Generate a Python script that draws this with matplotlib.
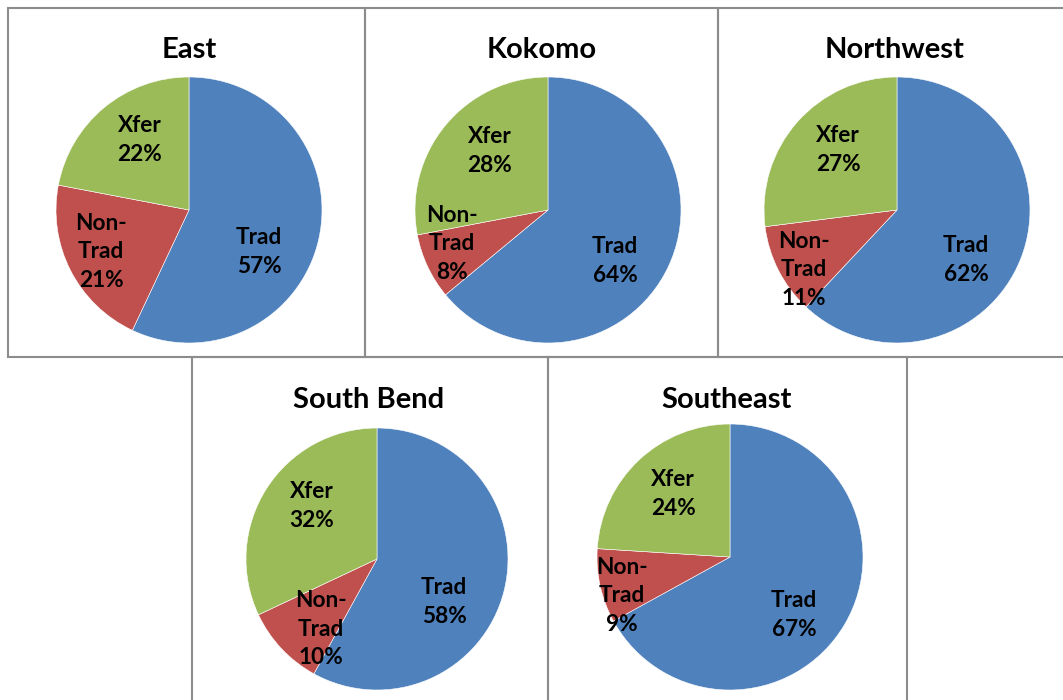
import matplotlib
matplotlib.use("Agg")
import matplotlib.pyplot as plt
from matplotlib.patches import Rectangle

# campus breakdown, percent
campuses = ["East", "Kokomo", "Northwest", "South Bend", "Southeast"]
categories = ["Trad", "Non-\nTrad", "Xfer"]
trad = [57, 64, 62, 58, 67]
nontrad = [21, 8, 11, 10, 9]
xfer = [22, 28, 27, 32, 24]

colors = ["#4F81BD", "#C0504D", "#9BBB59"]

W, H = 1063, 700

# layout in pixel space (y measured from top)
boxes = [(8, 8, 357, 349), (365, 8, 353, 349), (718, 8, 352, 349),
         (192, 357, 356, 350), (548, 357, 359, 350)]
centers = [(189, 210), (548, 210), (897, 210), (377, 559), (730, 557)]
radius = [133, 133, 133, 131, 133]
title_pos = [(189, 50), (542, 50), (895, 50), (369, 400), (727, 400)]
# label positions per campus: Trad, Non-Trad, Xfer
label_pos = [
    [(259, 252), (101, 252), (140, 140)],
    [(615, 261), (452, 244), (490, 151)],
    [(966, 260), (804, 270), (838, 150)],
    [(444, 602), (321, 629), (312, 506)],
    [(794, 615), (622, 596), (673, 494)],
]

font = ["Lato", "DejaVu Sans"]

fig = plt.figure(figsize=(W / 100, H / 100), dpi=100)
ax = fig.add_axes([0, 0, 1, 1])

for i, name in enumerate(campuses):
    bx, by, bw, bh = boxes[i]
    ax.add_patch(Rectangle((bx, H - by - bh), bw, bh, fill=False,
                           edgecolor="#8c8c8c", lw=1.5, zorder=1))
    vals = [trad[i], nontrad[i], xfer[i]]
    cx, cy = centers[i]
    ax.pie(vals, colors=colors, startangle=90, counterclock=False,
           center=(cx, H - cy), radius=radius[i],
           wedgeprops=dict(edgecolor="white", linewidth=0.4))
    tx, ty = title_pos[i]
    ax.text(tx, H - ty, name, ha="center", va="center", fontsize=21,
            fontweight="bold", family=font)
    for j, cat in enumerate(categories):
        lx, ly = label_pos[i][j]
        ax.text(lx, H - ly, "%s\n%d%%" % (cat, vals[j]), ha="center",
                va="center", fontsize=16.3, fontweight="bold", family=font,
                linespacing=1.42)

ax.set_xlim(0, W)
ax.set_ylim(0, H)
ax.set_aspect("auto")
ax.axis("off")

fig.savefig("out.png", dpi=100, facecolor="white")
